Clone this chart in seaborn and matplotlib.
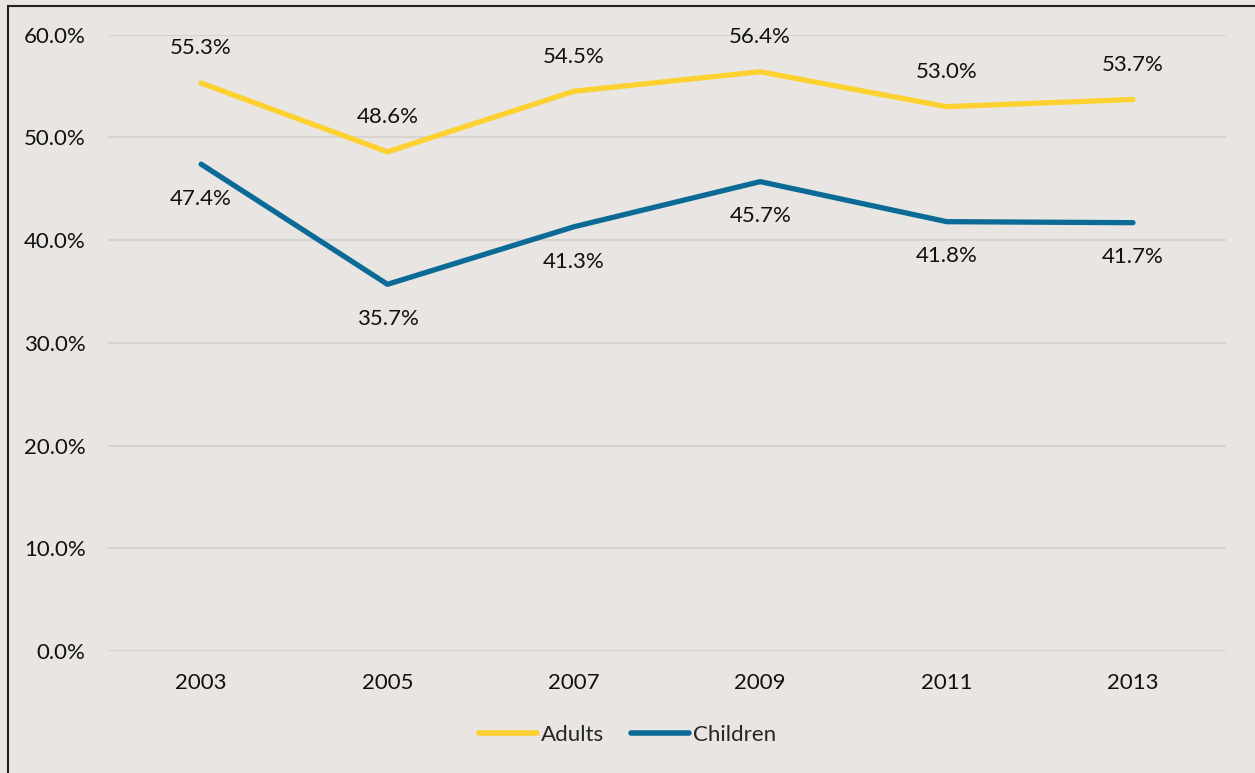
import matplotlib
matplotlib.use("Agg")
import matplotlib.pyplot as plt
import seaborn as sns
import pandas as pd
from matplotlib.lines import Line2D

years = ["2003", "2005", "2007", "2009", "2011", "2013"]
adults = [55.3, 48.6, 54.5, 56.4, 53.0, 53.7]
children = [47.4, 35.7, 41.3, 45.7, 41.8, 41.7]
series_names = ["Adults", "Children"]
yticks = [0, 10, 20, 30, 40, 50, 60]

bg = "#E8E5E2"
colors = {"Adults": "#FDD12F", "Children": "#0B6A96"}
FS = 16

sns.set_style("white")
plt.rcParams["font.family"] = ["Lato", "DejaVu Sans"]

df = pd.DataFrame({
    "Year": years * 2,
    "Value": adults + children,
    "Series": [series_names[0]] * len(years) + [series_names[1]] * len(years),
})

fig = plt.figure(figsize=(12.55, 7.73), dpi=100, facecolor=bg)
ax = fig.add_axes([0.086, 0.158, 0.891, 0.797])
ax.set_facecolor(bg)

sns.lineplot(data=df, x="Year", y="Value", hue="Series", palette=colors,
             linewidth=3.8, ax=ax, legend=False, sort=False)
for ln in ax.lines:
    ln.set_solid_capstyle("round")

ax.set_xlim(-0.5, len(years) - 0.5)
ax.set_ylim(0, 60)
ax.set_yticks(yticks)
ax.set_yticklabels([f"{v:.1f}%" for v in yticks])
ax.yaxis.grid(True, color="#D6D3D0", linewidth=1.5)
ax.set_axisbelow(True)
ax.tick_params(axis="both", length=0, labelsize=FS, colors="#111111")
ax.tick_params(axis="y", pad=16)
ax.tick_params(axis="x", pad=16)
ax.set_xlabel("")
ax.set_ylabel("")
for s in ax.spines.values():
    s.set_visible(False)

for i, v in enumerate(adults):
    ax.annotate(f"{v:.1f}%", (i, v), xytext=(0, 25), textcoords="offset points",
                ha="center", va="center", fontsize=FS, color="#111111")
for i, v in enumerate(children):
    ax.annotate(f"{v:.1f}%", (i, v), xytext=(0, -25), textcoords="offset points",
                ha="center", va="center", fontsize=FS, color="#111111")

handles = [Line2D([], [], color=colors[n], linewidth=4, solid_capstyle="round")
           for n in series_names]
fig.legend(handles, series_names, loc="center", bbox_to_anchor=(0.5, 0.049),
           ncol=2, frameon=False, fontsize=FS, handlelength=2.6,
           handletextpad=0.2, columnspacing=1.2)

# outer frame
fig.add_artist(Line2D([8 / 1255, 8 / 1255], [0, 1 - 6 / 773], transform=fig.transFigure,
                      color="#222222", linewidth=1.5))
fig.add_artist(Line2D([8 / 1255, 1], [1 - 6 / 773, 1 - 6 / 773], transform=fig.transFigure,
                      color="#222222", linewidth=1.5))

fig.savefig("out.png", dpi=100, facecolor=bg)
